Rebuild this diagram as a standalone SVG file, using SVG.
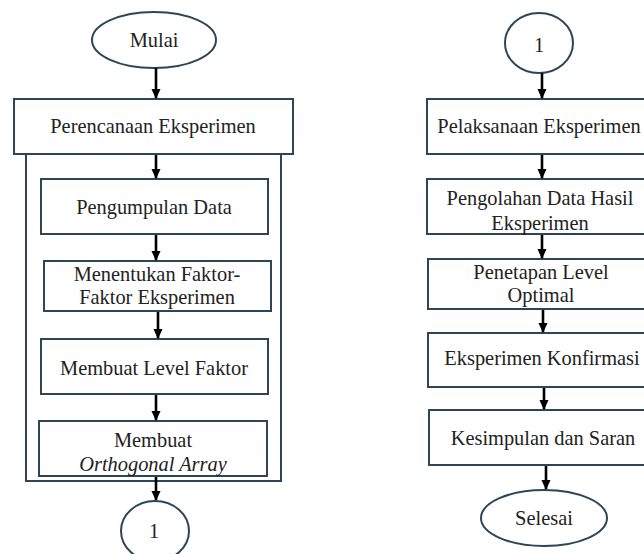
<svg xmlns="http://www.w3.org/2000/svg" width="644" height="554" viewBox="0 0 644 554">
<style>
.b{fill:#fff;stroke:#2c4657;stroke-width:2}
.c{fill:none;stroke:#2c4657;stroke-width:2}
.t{font-family:"Liberation Serif","Times New Roman",serif;font-size:20.4px;fill:#222;text-anchor:middle}
.i{font-style:italic}
.a{stroke:#000;stroke-width:2.6;fill:none;marker-end:url(#ah)}
</style>
<defs>
<marker id="ah" markerWidth="4" markerHeight="4" refX="3.6" refY="2" orient="auto" markerUnits="strokeWidth" viewBox="0 0 4 4">
<path d="M0,0.2 L4,2 L0,3.8 Z" fill="#000"/>
</marker>
</defs>
<rect width="644" height="554" fill="#fff"/>
<g id="container"><rect class="c" x="26" y="154" width="255" height="327"/></g>
<g id="mulai"><ellipse class="b" cx="154" cy="40" rx="62" ry="28"/><text class="t" x="154" y="47">Mulai</text></g>
<g id="perencanaan"><rect class="b" x="14" y="99" width="279" height="55"/><text class="t" x="153" y="133">Perencanaan Eksperimen</text></g>
<g id="pengumpulan"><rect class="b" x="41" y="179" width="227" height="55"/><text class="t" x="154" y="214">Pengumpulan Data</text></g>
<g id="menentukan"><rect class="b" x="44" y="261" width="227" height="50"/><text class="t" x="157" y="281">Menentukan Faktor-</text><text class="t" x="157" y="304">Faktor Eksperimen</text></g>
<g id="level"><rect class="b" x="41" y="339" width="227" height="55"/><text class="t" x="154" y="375">Membuat Level Faktor</text></g>
<g id="orthogonal"><rect class="b" x="39" y="421" width="228" height="55"/><text class="t" x="153" y="447">Membuat</text><text class="t i" x="153" y="471">Orthogonal Array</text></g>
<g id="konektor1a"><ellipse class="b" cx="155" cy="531" rx="34" ry="30"/><text class="t" x="154" y="538">1</text></g>
<g id="konektor1b"><ellipse class="b" cx="539" cy="43" rx="34" ry="30"/><text class="t" x="539" y="52">1</text></g>
<g id="pelaksanaan"><rect class="b" x="427" y="99" width="226" height="55"/><text class="t" x="539" y="133">Pelaksanaan Eksperimen</text></g>
<g id="pengolahan"><rect class="b" x="427" y="179" width="226" height="55"/><text class="t" x="540" y="205">Pengolahan Data Hasil</text><text class="t" x="540" y="230">Eksperimen</text></g>
<g id="penetapan"><rect class="b" x="428" y="259" width="226" height="50"/><text class="t" x="541" y="279">Penetapan Level</text><text class="t" x="541" y="302">Optimal</text></g>
<g id="konfirmasi"><rect class="b" x="428" y="333" width="226" height="54"/><text class="t" x="542" y="365">Eksperimen Konfirmasi</text></g>
<g id="kesimpulan"><rect class="b" x="429" y="410" width="226" height="55"/><text class="t" x="543" y="445">Kesimpulan dan Saran</text></g>
<g id="selesai"><ellipse class="b" cx="544" cy="518" rx="63" ry="28"/><text class="t" x="544" y="525">Selesai</text></g>
<g id="connectors">
<line class="a" x1="156" y1="68" x2="156" y2="98"/>
<line class="a" x1="156" y1="155" x2="156" y2="178"/>
<line class="a" x1="156" y1="235" x2="156" y2="260"/>
<line class="a" x1="158" y1="312" x2="158" y2="338"/>
<line class="a" x1="156" y1="395" x2="156" y2="420"/>
<line class="a" x1="156" y1="477" x2="156" y2="500"/>
<line class="a" x1="542" y1="73" x2="542" y2="98"/>
<line class="a" x1="542" y1="155" x2="542" y2="178"/>
<line class="a" x1="542" y1="235" x2="542" y2="258"/>
<line class="a" x1="543" y1="310" x2="543" y2="332"/>
<line class="a" x1="544" y1="388" x2="544" y2="409"/>
<line class="a" x1="546" y1="466" x2="546" y2="489"/>
</g>
</svg>
